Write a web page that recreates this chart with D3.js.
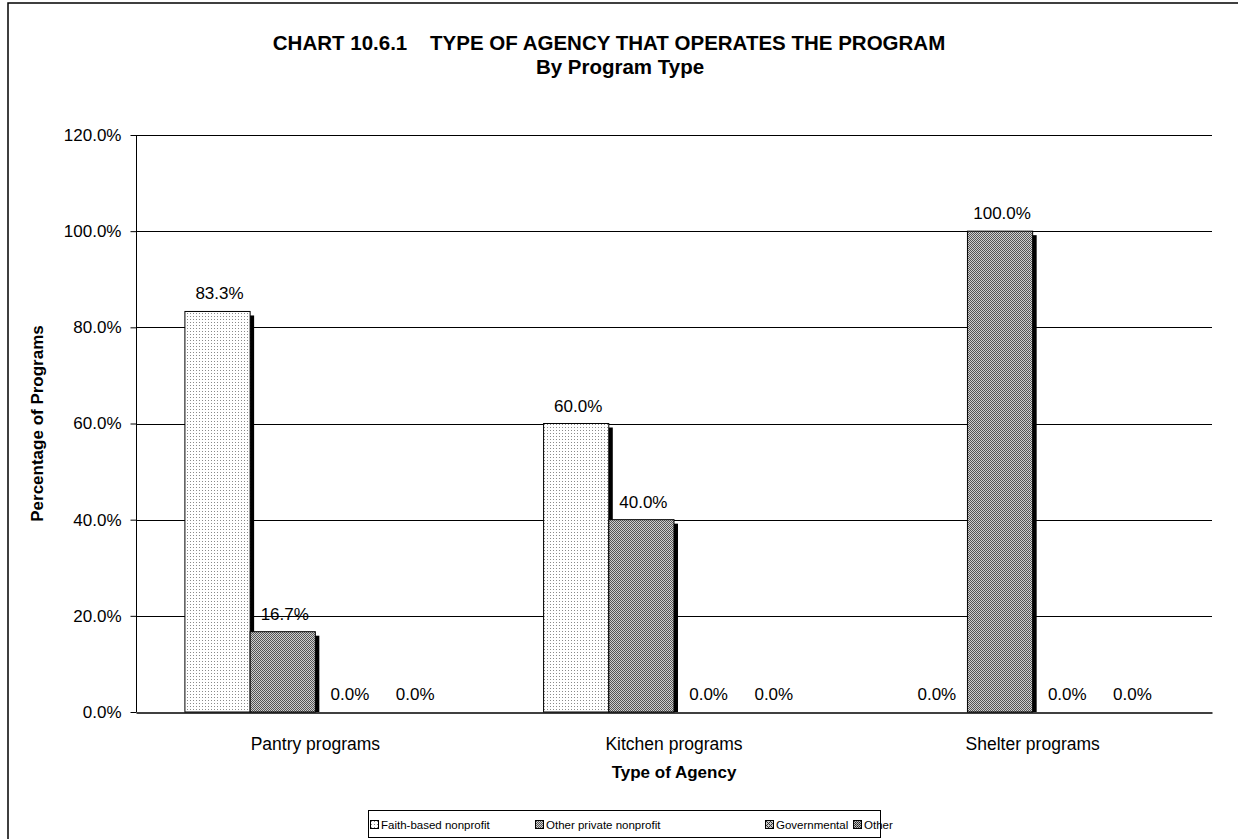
<!DOCTYPE html>
<html>
<head>
<meta charset="utf-8">
<script src="https://cdn.jsdelivr.net/npm/d3@7"></script>
<style>
  body { margin: 0; background: #fff; }
  text { font-family: "Liberation Sans", Arial, sans-serif; }
</style>
</head>
<body>
<div id="chart"></div>
<script>
// ===== Data =====
var categories = ["Pantry programs", "Kitchen programs", "Shelter programs"];
var seriesNames = ["Faith-based nonprofit", "Other private nonprofit", "Governmental", "Other"];
var faithBased = [83.3, 60.0, 0.0];
var otherPrivate = [16.7, 40.0, 100.0];
var governmental = [0.0, 0.0, 0.0];
var otherAgency = [0.0, 0.0, 0.0];
var yTicks = [0, 20, 40, 60, 80, 100, 120];

var seriesValues = [faithBased, otherPrivate, governmental, otherAgency];

var W = 1238, H = 839;
var plot = {left: 136, right: 1212, top: 135, bottom: 712};

var svg = d3.select("#chart").append("svg")
    .attr("width", W)
    .attr("height", H);

// Patterns for the bar fills
var defs = svg.append("defs");
function addPattern(id, size, bg, dots) {
    var p = defs.append("pattern")
        .attr("id", id)
        .attr("patternUnits", "userSpaceOnUse")
        .attr("width", size).attr("height", size);
    p.append("rect").attr("width", size).attr("height", size).attr("fill", bg);
    dots.forEach(function(d) {
        p.append("rect").attr("x", d[0]).attr("y", d[1])
            .attr("width", 1).attr("height", 1).attr("fill", d[2]);
    });
}
addPattern("pat0", 3, "#fff", [[1, 1, "#8a8a8a"]]);
addPattern("pat1", 2, "#cfcfcf", [[0, 0, "#555"], [1, 1, "#555"]]);
addPattern("pat2", 4, "#c8c8c8", [[0, 0, "#333"], [1, 1, "#333"], [2, 2, "#333"], [3, 3, "#333"], [2, 0, "#333"], [0, 2, "#333"]]);
addPattern("pat3", 2, "#bbb", [[0, 0, "#222"], [1, 1, "#444"]]);

// Outer chart border
svg.append("rect")
    .attr("x", 8).attr("y", 3)
    .attr("width", W + 20).attr("height", H + 20)
    .attr("fill", "none")
    .attr("stroke", "#000")
    .attr("stroke-width", 1.5);

// Scales
var x0 = d3.scaleBand()
    .domain(categories)
    .range([plot.left, plot.right])
    .paddingInner(0).paddingOuter(0);

var x1 = d3.scaleBand()
    .domain(seriesNames)
    .range([0, x0.bandwidth()])
    .paddingInner(0).paddingOuter(0.75);

var y = d3.scaleLinear()
    .domain([0, 120])
    .range([plot.bottom, plot.top]);

var fmt = function(v) { return v.toFixed(1) + "%"; };

// Gridlines
svg.append("g")
    .selectAll("line")
    .data(yTicks.filter(function(t) { return t > 0; }))
    .enter().append("line")
    .attr("x1", plot.left).attr("x2", plot.right)
    .attr("y1", function(d) { return Math.round(y(d)) + 0.5; })
    .attr("y2", function(d) { return Math.round(y(d)) + 0.5; })
    .attr("stroke", "#000")
    .attr("stroke-width", 1);

// Bars, one series at a time with a drop shadow
seriesNames.forEach(function(name, si) {
    var g = svg.append("g");
    var data = categories.map(function(c, ci) { return {cat: c, v: seriesValues[si][ci]}; });
    var bars = data.filter(function(d) { return d.v > 0; });

    g.selectAll(".shadow")
        .data(bars)
        .enter().append("rect")
        .attr("x", function(d) { return x0(d.cat) + x1(name) + 4; })
        .attr("y", function(d) { return y(d.v) + 4; })
        .attr("width", x1.bandwidth())
        .attr("height", function(d) { return plot.bottom - y(d.v) - 4; })
        .attr("fill", "#000");

    g.selectAll(".bar")
        .data(bars)
        .enter().append("rect")
        .attr("x", function(d) { return x0(d.cat) + x1(name); })
        .attr("y", function(d) { return y(d.v); })
        .attr("width", x1.bandwidth())
        .attr("height", function(d) { return plot.bottom - y(d.v); })
        .attr("fill", "url(#pat" + si + ")")
        .attr("stroke", "#000")
        .attr("stroke-width", 1);

    g.selectAll(".lbl")
        .data(data)
        .enter().append("text")
        .attr("x", function(d) { return x0(d.cat) + x1(name) + x1.bandwidth() / 2 + 2; })
        .attr("y", function(d) { return y(d.v) - 12; })
        .attr("text-anchor", "middle")
        .attr("font-size", "17px")
        .attr("fill", "#000")
        .text(function(d) { return fmt(d.v); });
});

// Y axis
var yAxis = svg.append("g")
    .attr("transform", "translate(" + (plot.left + 0.5) + ",0)")
    .call(d3.axisLeft(y).tickValues(yTicks).tickSize(6).tickPadding(9)
        .tickFormat(function(d) { return d.toFixed(1) + "%"; }));
yAxis.select(".domain").attr("stroke", "#000").attr("d", "M0," + plot.bottom + "V" + plot.top);
yAxis.selectAll("text").attr("font-size", "17px").attr("font-family", "Liberation Sans, Arial, sans-serif").attr("fill", "#000");
yAxis.selectAll("line").attr("stroke", "#000");

// X axis
var xAxis = svg.append("g")
    .attr("transform", "translate(0," + (plot.bottom + 0.5) + ")")
    .call(d3.axisBottom(x0).tickSize(0).tickPadding(25));
xAxis.select(".domain").attr("stroke", "#000").attr("stroke-width", 1.5);
xAxis.selectAll("text").attr("font-size", "17.5px").attr("font-family", "Liberation Sans, Arial, sans-serif").attr("fill", "#000");

// Titles
svg.append("text")
    .attr("x", 609).attr("y", 50)
    .attr("text-anchor", "middle")
    .attr("font-size", "20.5px").attr("font-weight", "bold")
    .attr("xml:space", "preserve")
    .text("CHART 10.6.1    TYPE OF AGENCY THAT OPERATES THE PROGRAM");
svg.append("text")
    .attr("x", 620).attr("y", 74)
    .attr("text-anchor", "middle")
    .attr("font-size", "20.5px").attr("font-weight", "bold")
    .text("By Program Type");

svg.append("text")
    .attr("transform", "translate(43," + ((plot.top + plot.bottom) / 2) + ") rotate(-90)")
    .attr("text-anchor", "middle")
    .attr("font-size", "17px").attr("font-weight", "bold")
    .text("Percentage of Programs");

svg.append("text")
    .attr("x", (plot.left + plot.right) / 2).attr("y", 778)
    .attr("text-anchor", "middle")
    .attr("font-size", "17px").attr("font-weight", "bold")
    .text("Type of Agency");

// Legend
var legend = svg.append("g");
legend.append("rect")
    .attr("x", 368.5).attr("y", 810.5)
    .attr("width", 512).attr("height", 27)
    .attr("fill", "#fff")
    .attr("stroke", "#000").attr("stroke-width", 1);
var legendX = [370, 535, 765, 853];
seriesNames.forEach(function(name, si) {
    var lg = legend.append("g").attr("transform", "translate(" + legendX[si] + ",820)");
    lg.append("rect")
        .attr("x", 0.5).attr("y", 0.5)
        .attr("width", 8).attr("height", 8)
        .attr("fill", "url(#pat" + si + ")")
        .attr("stroke", "#000");
    lg.append("text")
        .attr("x", 11).attr("y", 9)
        .attr("font-size", "11.5px")
        .text(name);
});
</script>
</body>
</html>
